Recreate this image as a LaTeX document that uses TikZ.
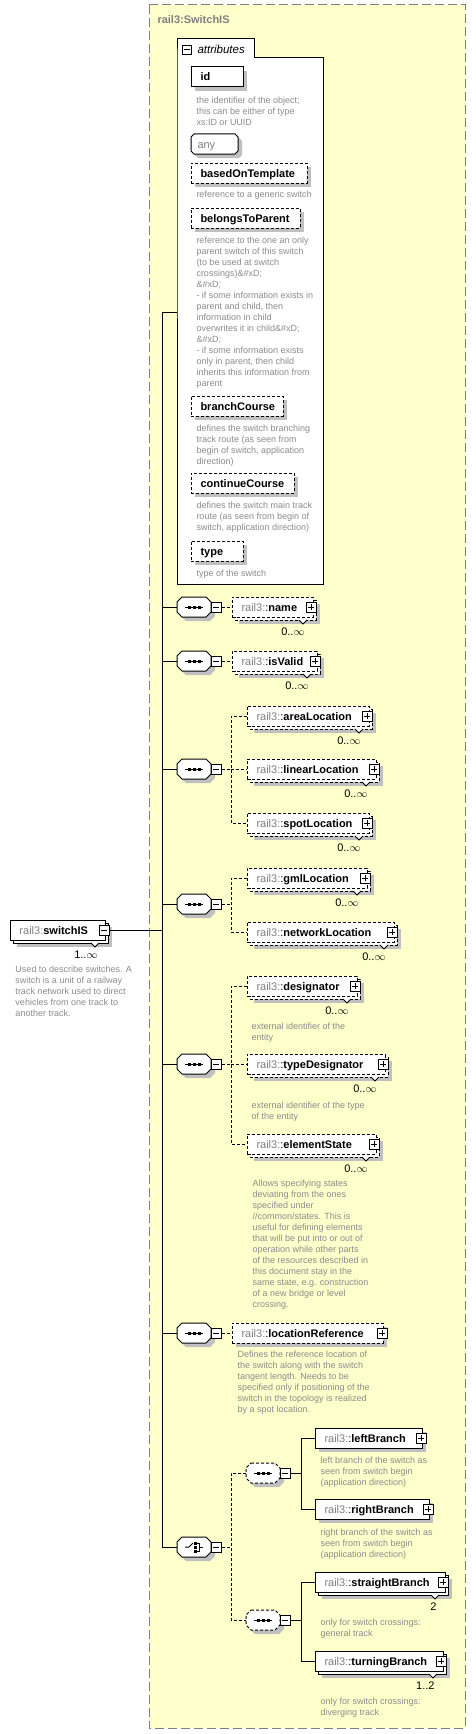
\documentclass[tikz,border=0pt]{standalone}
\usepackage{fontspec}
\setmainfont{Liberation Sans}
\usetikzlibrary{calc}
\definecolor{ybg}{RGB}{255,255,204}
\definecolor{yborder}{RGB}{128,128,128}
\definecolor{shd}{RGB}{192,192,192}
\definecolor{pfx}{RGB}{128,128,128}
\definecolor{dsc}{RGB}{140,140,140}
\definecolor{ttl}{RGB}{128,128,128}
\tikzset{
  dsctext/.style={anchor=north west, align=left, inner sep=0, text=dsc, font=\fontsize{9}{11}\selectfont},
  elabel/.style={anchor=base west, inner sep=0, font=\fontsize{11}{13}\selectfont},
  mult/.style={anchor=base east, inner sep=0, font=\fontsize{11}{13}\selectfont},
  pmbox/.style={draw, fill=white, minimum size=10, inner sep=0},
  dashln/.style={dash pattern=on 3pt off 2pt},
}
\newcommand\dscnode[4]{\node[dsctext] (#1) at (#2,{#3-7}) {\rule{0pt}{7pt}#4};}
\newcommand\octo[4]{%
 \fill[shd,shift={({#2+4},{#3+4})}] (-12,-10) -- (12,-10) -- (17,-5) -- (17,5) -- (12,10) -- (-12,10) -- (-17,5) -- (-17,-5) -- cycle;
 \draw[fill=white,shift={(#2,#3)},#4] (-12,-10) -- (12,-10) -- (17,-5) -- (17,5) -- (12,10) -- (-12,10) -- (-17,5) -- (-17,-5) -- cycle;
 \node[minimum width=34,minimum height=20,inner sep=0] (#1) at (#2,#3) {};
 \node[pmbox] (#1-m) at ({#2+22},#3) {};
 \draw ({#2+19},#3) -- ({#2+25},#3);
}
\newcommand\seqicon[2]{%
 \draw ({#1-9},#2) -- ({#1+9},#2);
 \fill ({#1-6.5},{#2-1.5}) rectangle ++(3,3);
 \fill ({#1-1.5},{#2-1.5}) rectangle ++(3,3);
 \fill ({#1+3.5},{#2-1.5}) rectangle ++(3,3);
}
\newcommand\elemOne[6]{%
 \fill[shd] ({#2+4},{#4-6}) rectangle ({#3+4},{#4+14});
 \node[draw,fill=white,#5,minimum width={#3-#2},minimum height=20,inner sep=0] (#1) at ({(#2+#3)/2},#4) {};
 \node[elabel] (#1-t) at ({#2+9},{#4+4}) {\textcolor{pfx}{rail3:}:\textbf{#6}};
 \node[pmbox] (#1-p) at ({#3-1},#4) {};
 \draw ({#3-4},#4) -- ({#3+2},#4) ({#3-1},{#4-3}) -- ({#3-1},{#4+3});
}
\newcommand\elemMany[7]{%
 \fill[shd] ({#2+7},{#4-3}) rectangle ({#3+7},{#4+17});
 \draw[fill=white,#5] ({#2+3},{#4-7}) rectangle ({#3+3},{#4+13});
 \draw[fill=white] ({#3-14},{#4+13}) -- ({#3-10},{#4+17}) -- ({#3-6},{#4+13});
 \node[draw,fill=white,#5,minimum width={#3-#2},minimum height=20,inner sep=0] (#1) at ({(#2+#3)/2},#4) {};
 \node[elabel] (#1-t) at ({#2+9},{#4+4}) {\textcolor{pfx}{rail3:}:\textbf{#6}};
 \node[pmbox] (#1-p) at ({#3-2},#4) {};
 \draw ({#3-5},#4) -- ({#3+1},#4) ({#3-2},{#4-3}) -- ({#3-2},{#4+3});
 \node[mult] (#1-n) at ({#3-8},{#4+28}) {#7};
}
\newcommand\attrbox[6]{%
 \fill[shd] ({#2+4},{#4+4}) rectangle ({#3+4},{#4+24});
 \node[draw,fill=white,#5,minimum width={#3-#2},minimum height=20,inner sep=0] (#1) at ({(#2+#3)/2},{#4+10}) {};
 \node[elabel,font=\fontsize{11}{13}\selectfont\bfseries] (#1-t) at ({#2+9},{#4+14}) {#6};
}
\begin{document}
\begin{tikzpicture}[x=1pt,y=-1pt,line width=1pt]
\useasboundingbox (0,0) rectangle (476,1734);
\fill[white] (0,0) rectangle (476,1734);
% yellow complex type box
\draw[fill=ybg,draw=yborder,dash pattern=on 9pt off 4pt] (149,5) rectangle (465,1728);
\node[anchor=base west,inner sep=0,text=ttl,font=\fontsize{11}{13}\selectfont\bfseries] (title) at (157,24) {rail3:SwitchIS};
% attributes box
\draw[fill=white] (177,58) -- (177,39) -- (254,39) -- (254,58) -- (323,58) -- (323,584) -- (177,584) -- cycle;
\node[inner sep=0,minimum width=146,minimum height=526] (attrs) at (250,321) {};
\node[pmbox,minimum size=9] (attr-m) at (187,50) {};
\draw (184,50) -- (190,50);
\node[anchor=base west,inner sep=0,font=\fontsize{11.5}{13}\selectfont\itshape] (attr-t) at (197,54) {attributes};
\attrbox{aid}{191}{243}{67}{}{id}
\dscnode{aid-d}{196}{103}{the identifier of the object;\\this can be either of type\\xs:ID or UUID}
% any
\fill[shd,shift={(4,4)}] (194,134) -- (235,134) -- (238,137) -- (238,151) -- (235,154) -- (194,154) -- (191,151) -- (191,137) -- cycle;
\draw[fill=white] (194,134) -- (235,134) -- (238,137) -- (238,151) -- (235,154) -- (194,154) -- (191,151) -- (191,137) -- cycle;
\node[anchor=base west,inner sep=0,text=pfx,font=\fontsize{11}{13}\selectfont] (anyt) at (197,148) {any};
\attrbox{abot}{191}{307}{163}{dashln}{basedOnTemplate}
\dscnode{abot-d}{196}{197}{reference to a generic switch}
\attrbox{abtp}{191}{300}{208}{dashln}{belongsToParent}
\dscnode{abtp-d}{196}{243}{reference to the one an only\\parent switch of this switch\\(to be used at switch\\crossings)\&\#xD;\\\&\#xD;\\- if some information exists in\\parent and child, then\\information in child\\overwrites it in child\&\#xD;\\\&\#xD;\\- if some information exists\\only in parent, then child\\inherits this information from\\parent}
\attrbox{abc}{191}{283}{396}{dashln}{branchCourse}
\dscnode{abc-d}{196}{431}{defines the switch branching\\track route (as seen from\\begin of switch, application\\direction)}
\attrbox{acc}{191}{294}{473}{dashln}{continueCourse}
\dscnode{acc-d}{196}{508}{defines the switch main track\\route (as seen from begin of\\switch, application direction)}
\attrbox{aty}{191}{243}{541}{dashln}{type}
\dscnode{aty-d}{196}{576}{type of the switch}
% root element switchIS
\fill[shd] (17,927) rectangle (112,947);
\draw[fill=white] (13,923) rectangle (108,943);
\draw[fill=white] (91,943) -- (95,947) -- (99,943);
\node[draw,fill=white,minimum width=95,minimum height=20,inner sep=0] (sw) at (57.5,930) {};
\node[elabel] (sw-t) at (19,934) {\textcolor{pfx}{rail3:}\textbf{switchIS}};
\node[pmbox] (sw-m) at (104,930) {};
\draw (101,930) -- (107,930);
\node[mult] (sw-n) at (98,958) {1..\(\infty\)};
\dscnode{sw-d}{15}{972}{Used to describe switches. A\\switch is a unit of a railway\\track network used to direct\\vehicles from one track to\\another track.}
% trunk
\coordinate (tTop) at (162,312);
\coordinate (tBot) at (162,1547);
% sequences
\octo{s1}{194}{607}{}\seqicon{194}{607}
\octo{s2}{194}{661}{}\seqicon{194}{661}
\octo{s3}{194}{769}{}\seqicon{194}{769}
\octo{s4}{194}{904}{}\seqicon{194}{904}
\octo{s5}{194}{1064}{}\seqicon{194}{1064}
\octo{s6}{194}{1333}{}\seqicon{194}{1333}
% choice
\octo{ch}{194}{1547}{}
\draw (185,1547) -- (189,1547) -- (193,1543);
\fill (194,1541.5) rectangle ++(3,3);
\fill (194,1545.5) rectangle ++(3,3);
\fill (194,1549.5) rectangle ++(3,3);
\draw (197,1543) -- (199,1543) -- (199,1551) -- (197,1551) (199,1547) -- (203,1547);
\draw (sw-m.east) -- (sw-m.east -| tTop);
\draw (tTop -| attrs.west) -- (tTop) -- (tBot) -- (ch.west);
\foreach \s in {s1,s2,s3,s4,s5,s6} \draw (\s.west -| tTop) -- (\s.west);
% elements
\elemMany{en}{232}{313}{607}{dashln}{name}{0..\(\infty\)}
\elemMany{ev}{232}{317}{661}{dashln}{isValid}{0..\(\infty\)}
\draw[dashln] (s1-m.east) -- (en.west);
\draw[dashln] (s2-m.east) -- (ev.west);
\coordinate (g3) at (231,769);
\coordinate (g4) at (231,904);
\coordinate (g5) at (231,1064);
\draw[dashln] (s3-m.east) -- (g3);
\draw[dashln] (s4-m.east) -- (g4);
\draw[dashln] (s5-m.east) -- (g5);
\draw[dashln] (247,716) -- (231,716) -- (231,823) -- (247,823);
\draw[dashln] (247,878) -- (231,878) -- (231,932) -- (247,932);
\draw[dashln] (247,986) -- (231,986) -- (231,1144) -- (247,1144);
\draw[dashln] (g3) -- (247,769);
\draw[dashln] (g5) -- (247,1064);
\elemMany{eal}{247}{369}{716}{dashln}{areaLocation}{0..\(\infty\)}
\elemMany{ell}{247}{376}{769}{dashln}{linearLocation}{0..\(\infty\)}
\elemMany{esl}{247}{369}{823}{dashln}{spotLocation}{0..\(\infty\)}
\elemMany{egl}{247}{367}{878}{dashln}{gmlLocation}{0..\(\infty\)}
\elemMany{enl}{247}{394}{932}{dashln}{networkLocation}{0..\(\infty\)}
\elemMany{ede}{247}{357}{986}{dashln}{designator}{0..\(\infty\)}
\dscnode{ede-d}{251}{1029}{external identifier of the\\entity}
\elemMany{etd}{247}{385}{1064}{dashln}{typeDesignator}{0..\(\infty\)}
\dscnode{etd-d}{251}{1108}{external identifier of the type\\of the entity}
\elemMany{ees}{247}{376}{1144}{dashln}{elementState}{0..\(\infty\)}
\dscnode{ees-d}{252}{1186}{Allows specifying states\\deviating from the ones\\specified under\\//common/states. This is\\useful for defining elements\\that will be put into or out of\\operation while other parts\\of the resources described in\\this document stay in the\\same state, e.g. construction\\of a new bridge or level\\crossing.}
\draw[dashln] (s6-m.east) -- (232,1333);
\elemOne{elr}{232}{383}{1333}{dashln}{locationReference}
\dscnode{elr-d}{237}{1357}{Defines the reference location of\\the switch along with the switch\\tangent length. Needs to be\\specified only if positioning of the\\switch in the topology is realized\\by a spot location.}
% choice branches
\coordinate (cv) at (231,1547);
\draw[dashln] (ch-m.east) -- (cv);
\draw[dashln] (246,1473) -- (231,1473) -- (231,1620) -- (246,1620);
\octo{qa}{263}{1473}{dashln}\seqicon{263}{1473}
\octo{qb}{263}{1620}{dashln}\seqicon{263}{1620}
\coordinate (qv) at (301,1473);
\coordinate (qw) at (301,1620);
\draw (qa-m.east) -- (qv);
\draw (qb-m.east) -- (qw);
\draw (315,1438) -- (301,1438) -- (301,1509) -- (315,1509);
\draw (315,1582) -- (301,1582) -- (301,1661) -- (315,1661);
\elemOne{elb}{315}{422}{1438}{}{leftBranch}
\dscnode{elb-d}{320}{1463}{left branch of the switch as\\seen from switch begin\\(application direction)}
\elemOne{erb}{315}{429}{1509}{}{rightBranch}
\dscnode{erb-d}{320}{1535}{right branch of the switch as\\seen from switch begin\\(application direction)}
\elemMany{esb}{315}{445}{1582}{}{straightBranch}{2}
\dscnode{esb-d}{320}{1625}{only for switch crossings:\\general track}
\elemMany{etb}{315}{443}{1661}{}{turningBranch}{1..2}
\dscnode{etb-d}{320}{1704}{only for switch crossings:\\diverging track}
\end{tikzpicture}
\end{document}
